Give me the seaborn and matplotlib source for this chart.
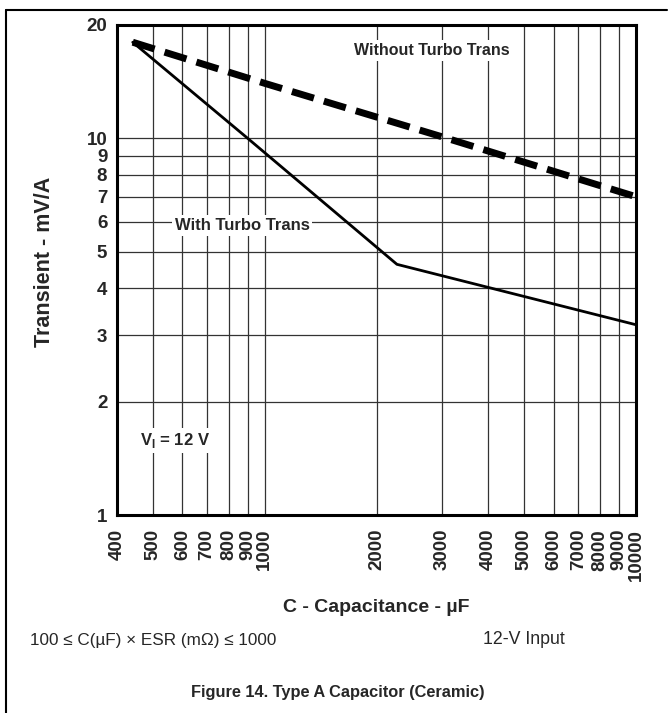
import matplotlib.pyplot as plt
import matplotlib.lines as mlines
from matplotlib.ticker import NullLocator
import pandas as pd
import seaborn as sns

# curves (log-log)
cap_without = [441, 1000, 3000, 10000]
trans_without = [18.0, 14.0, 10.1, 7.0]
cap_with = [441, 900, 2270, 10000]
trans_with = [18.0, 10.0, 4.63, 3.2]

x_ticks = [400, 500, 600, 700, 800, 900, 1000, 2000, 3000, 4000,
           5000, 6000, 7000, 8000, 9000, 10000]
y_ticks = [1, 2, 3, 4, 5, 6, 7, 8, 9, 10, 20]

sns.set_theme(style="white")
plt.rcParams['font.family'] = ['Liberation Sans', 'DejaVu Sans']

W, H = 671, 713
fig = plt.figure(figsize=(W / 100, H / 100), dpi=100)
ax = fig.add_axes([117 / W, 1 - 515 / H, (636 - 117) / W, (515 - 25) / H])

df_without = pd.DataFrame({'cap': cap_without, 'trans': trans_without})
df_with = pd.DataFrame({'cap': cap_with, 'trans': trans_with})

sns.lineplot(data=df_without, x='cap', y='trans', ax=ax, color='black',
             linewidth=5.0, linestyle=(0, (3.3, 1.5)), zorder=4)
sns.lineplot(data=df_with, x='cap', y='trans', ax=ax, color='black',
             linewidth=2.0, zorder=4)

ax.set_xscale('log')
ax.set_yscale('log')
ax.set_xlim(400, 10000)
ax.set_ylim(1, 20)
ax.set_xticks(x_ticks, [str(v) for v in x_ticks])
ax.set_yticks(y_ticks, [str(v) for v in y_ticks])
ax.xaxis.set_minor_locator(NullLocator())
ax.yaxis.set_minor_locator(NullLocator())
ax.grid(True, which='major', color='#333333', linewidth=0.9)
ax.tick_params(axis='both', length=0, labelsize=13.5)
ax.tick_params(axis='x', rotation=90, pad=10)
ax.tick_params(axis='y', pad=7)
for lab in ax.get_xticklabels() + ax.get_yticklabels():
    lab.set_fontweight('bold')
ax.set_xlabel('')
ax.set_ylabel('')
for sp in ax.spines.values():
    sp.set_visible(True)
    sp.set_color('black')
    sp.set_linewidth(2.2)

box = dict(facecolor='white', edgecolor='none', pad=2)
ax.text(2825, 17.1, 'Without Turbo Trans', ha='center', va='center',
        fontsize=11.5, fontweight='bold', bbox=box, zorder=3)
ax.text(869, 5.88, 'With Turbo Trans', ha='center', va='center',
        fontsize=12, fontweight='bold', bbox=box, zorder=3)
ax.text(573, 1.58, 'V$_\\mathregular{I}$ = 12 V', ha='center', va='center',
        fontsize=12, fontweight='bold', bbox=box, zorder=3)

fig.text(45 / W, 1 - 262 / H, 'Transient - mV/A', rotation=90, ha='center',
         va='center', fontsize=15.5, fontweight='bold')
fig.text(376 / W, 1 - 607 / H, 'C - Capacitance - \u00b5F', ha='center',
         va='center', fontsize=14, fontweight='bold')
fig.text(30 / W, 1 - 640 / H, '100 \u2264 C(\u00b5F) \u00d7 ESR (m\u03a9) \u2264 1000',
         ha='left', va='center', fontsize=12.3)
fig.text(483 / W, 1 - 640 / H, '12-V Input', ha='left', va='center', fontsize=12.8)
fig.text(338 / W, 1 - 692 / H, 'Figure 14. Type A Capacitor (Ceramic)',
         ha='center', va='center', fontsize=11.8, fontweight='bold')

# page frame
fig.add_artist(mlines.Line2D([6 / W, 6 / W], [0, 1 - 10 / H], color='black',
                             lw=1.5, transform=fig.transFigure))
fig.add_artist(mlines.Line2D([6 / W, 667 / W], [1 - 10 / H, 1 - 10 / H],
                             color='black', lw=1.5, transform=fig.transFigure))

fig.savefig('out.png', dpi=100)
